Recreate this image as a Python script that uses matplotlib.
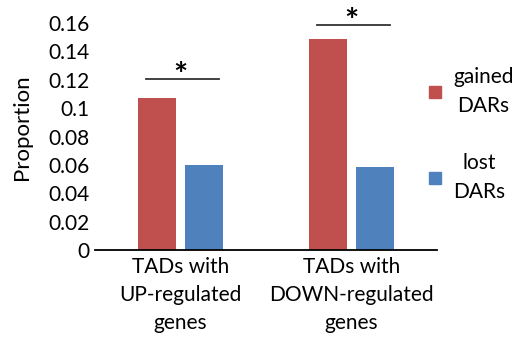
import numpy as np
import matplotlib.pyplot as plt
from matplotlib.lines import Line2D

plt.rcParams['font.family'] = ['Lato', 'DejaVu Sans']

groups = ['TADs with\nUP-regulated\ngenes', 'TADs with\nDOWN-regulated\ngenes']
gained = [0.107, 0.149]
lost = [0.060, 0.0585]
sig_y = [0.1205, 0.1585]
series_names = ['gained\nDARs', 'lost\nDARs']
yticks = [0, 0.02, 0.04, 0.06, 0.08, 0.1, 0.12, 0.14, 0.16]
ytick_labels = ['0', '0.02', '0.04', '0.06', '0.08', '0.1', '0.12', '0.14', '0.16']

red = '#C0504D'
blue = '#4F81BD'

fig = plt.figure(figsize=(5.16, 3.39), dpi=100)
ax = fig.add_axes([0.184, 0.2625, 0.663, 0.6695])

x = np.arange(len(groups))
w = 0.222
off = 0.14
ax.bar(x - off, gained, w, color=red)
ax.bar(x + off, lost, w, color=blue)

# significance bars
for i, y in enumerate(sig_y):
    ax.plot([i - 0.2, i + 0.225], [y, y], color='#333333', lw=1.3, clip_on=False)
    ax.annotate('*', (i, y), xytext=(0, -8.5), textcoords='offset points',
                ha='center', va='bottom', fontsize=24, fontweight='bold',
                annotation_clip=False)

ax.set_xlim(-0.5, 1.5)
ax.set_ylim(0, 0.16)
ax.set_yticks(yticks)
ax.set_yticklabels(ytick_labels)
ax.set_xticks(x)
ax.set_xticklabels(groups, linespacing=1.5)
ax.tick_params(axis='both', length=0, labelsize=15, pad=4)
ax.tick_params(axis='x', pad=5)
for s in ['top', 'right', 'left']:
    ax.spines[s].set_visible(False)
ax.spines['bottom'].set_linewidth(1.3)
ax.set_ylabel('Proportion', fontsize=16)
ax.yaxis.set_label_coords(-0.185, 0.54)

handles = [Line2D([], [], ls='', marker='s', markersize=8, color=c) for c in (red, blue)]
leg = ax.legend(handles, series_names, loc='upper left', bbox_to_anchor=(0.95, 0.845),
                frameon=False, fontsize=15, labelspacing=1.75, handlelength=0.6,
                handletextpad=0.6, borderaxespad=0)
for t in leg.get_texts():
    t.set_multialignment('center')
    t.set_linespacing(1.6)

fig.savefig('out.png', dpi=100)
